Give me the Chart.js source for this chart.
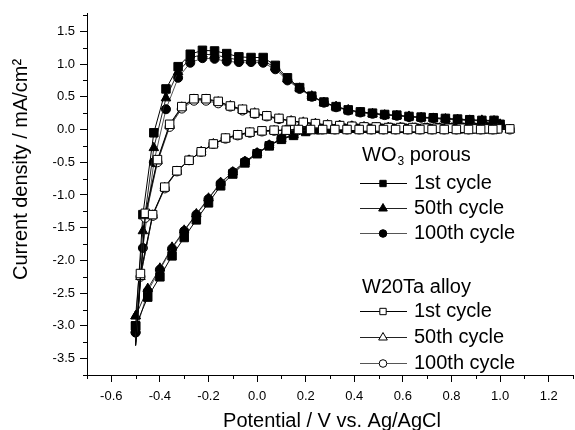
<!DOCTYPE html>
<html>
<head>
<meta charset="utf-8">
<script src="https://cdn.jsdelivr.net/npm/chart.js@4/dist/chart.umd.min.js"></script>
<style>
  html, body { margin: 0; padding: 0; background: #fff; overflow: hidden; }
  #wrap { width: 580px; height: 430px; }
</style>
</head>
<body>
<div id="wrap"><canvas id="cv" width="580" height="430"></canvas></div>
<script>
// Axis text
const xTitle = 'Potential / V vs. Ag/AgCl';
const yTitle = 'Current density / mA/cm\u00B2';

// Tick values
const xTicks = [-0.6, -0.4, -0.2, 0.0, 0.2, 0.4, 0.6, 0.8, 1.0, 1.2];
const xMinor = [-0.7, -0.5, -0.3, -0.1, 0.1, 0.3, 0.5, 0.7, 0.9, 1.1, 1.3];
const yTicks = [-3.5, -3.0, -2.5, -2.0, -1.5, -1.0, -0.5, 0.0, 0.5, 1.0, 1.5];
const yMinor = [-3.75, -3.25, -2.75, -2.25, -1.75, -1.25, -0.75, -0.25, 0.25, 0.75, 1.25, 1.75];

// Legend text
const cycleLabels = ['1st cycle', '50th cycle', '100th cycle'];
const wo3Title = { main: 'WO', sub: '3', rest: ' porous' };
const alloyTitle = 'W20Ta alloy';

// WO3 porous: potential path (anodic sweep up to 1.0 V, then cathodic back)
const wo3Potential = [
  -0.50, -0.47, -0.425, -0.375, -0.325, -0.275, -0.225, -0.175, -0.125, -0.075,
  -0.025, 0.025, 0.075, 0.125, 0.175, 0.225, 0.275, 0.325, 0.375, 0.425,
  0.475, 0.525, 0.575, 0.625, 0.675, 0.725, 0.775, 0.825, 0.875, 0.925,
  0.975, 1.00,
  0.95, 0.90, 0.85, 0.80, 0.75, 0.70, 0.65, 0.60, 0.55, 0.50,
  0.45, 0.40, 0.35, 0.30, 0.25, 0.20, 0.15, 0.10, 0.05, 0.00,
  -0.05, -0.10, -0.15, -0.20, -0.25, -0.30, -0.35, -0.40, -0.45
];
const wo3Cycle1 = [
  -3.00, -1.30, -0.05, 0.62, 0.96, 1.15, 1.21, 1.20, 1.16, 1.11,
  1.10, 1.10, 0.98, 0.79, 0.64, 0.51, 0.42, 0.35, 0.30, 0.27,
  0.25, 0.23, 0.22, 0.20, 0.19, 0.18, 0.17, 0.16, 0.15, 0.14,
  0.14, 0.08,
  0.03, 0.02, 0.02, 0.02, 0.02, 0.02, 0.02, 0.02, 0.02, 0.02,
  0.02, 0.02, 0.02, 0.01, 0.00, -0.03, -0.09, -0.15, -0.25, -0.37,
  -0.51, -0.68, -0.86, -1.12, -1.38, -1.65, -1.93, -2.25, -2.56
];
const wo3Cycle50 = [
  -2.85, -1.55, -0.28, 0.48, 0.88, 1.09, 1.15, 1.14, 1.10, 1.06,
  1.05, 1.05, 0.95, 0.77, 0.63, 0.51, 0.41, 0.35, 0.30, 0.26,
  0.24, 0.22, 0.21, 0.20, 0.18, 0.17, 0.16, 0.15, 0.14, 0.14,
  0.13, 0.08,
  0.03, 0.02, 0.02, 0.02, 0.02, 0.02, 0.02, 0.02, 0.02, 0.02,
  0.02, 0.02, 0.02, 0.01, 0.00, -0.02, -0.08, -0.14, -0.24, -0.36,
  -0.49, -0.65, -0.81, -1.05, -1.29, -1.54, -1.80, -2.12, -2.43
];
const wo3Cycle100 = [
  -3.10, -1.81, -0.50, 0.31, 0.79, 1.02, 1.09, 1.08, 1.04, 1.03,
  1.03, 1.02, 0.92, 0.75, 0.62, 0.50, 0.41, 0.34, 0.29, 0.26,
  0.24, 0.22, 0.21, 0.19, 0.18, 0.17, 0.16, 0.15, 0.14, 0.13,
  0.12, 0.07,
  0.03, 0.02, 0.02, 0.02, 0.02, 0.02, 0.02, 0.02, 0.02, 0.02,
  0.02, 0.02, 0.02, 0.01, 0.00, -0.02, -0.08, -0.14, -0.24, -0.36,
  -0.49, -0.65, -0.82, -1.06, -1.30, -1.55, -1.82, -2.14, -2.47
];

// W20Ta alloy: potential path
const alloyPotential = [
  -0.50, -0.46, -0.41, -0.36, -0.31, -0.26, -0.21, -0.16, -0.11, -0.06,
  -0.01, 0.04, 0.09, 0.14, 0.19, 0.24, 0.29, 0.34, 0.39, 0.44,
  0.49, 0.54, 0.59, 0.64, 0.69, 0.74, 0.79, 0.84, 0.89, 0.94,
  0.99, 1.04,
  0.97, 0.92, 0.87, 0.82, 0.77, 0.72, 0.67, 0.62, 0.57, 0.52,
  0.47, 0.42, 0.37, 0.32, 0.27, 0.22, 0.17, 0.12, 0.07, 0.02,
  -0.03, -0.08, -0.13, -0.18, -0.23, -0.28, -0.33, -0.38, -0.43, -0.48
];
const alloyCycle1 = [
  -3.30, -1.28, -0.46, 0.08, 0.35, 0.47, 0.47, 0.43, 0.36, 0.31,
  0.25, 0.21, 0.17, 0.13, 0.11, 0.09, 0.07, 0.06, 0.05, 0.04,
  0.04, 0.03, 0.03, 0.03, 0.02, 0.02, 0.02, 0.02, 0.01, 0.01,
  0.01, 0.01,
  0.00, 0.00, 0.00, 0.00, 0.00, 0.00, 0.00, 0.00, 0.00, 0.00,
  0.00, 0.00, 0.00, 0.00, 0.00, 0.00, 0.00, -0.01, -0.01, -0.02,
  -0.04, -0.08, -0.13, -0.22, -0.34, -0.47, -0.63, -0.88, -1.30, -2.20
];
const alloyCycle50 = [
  -3.25, -1.32, -0.48, 0.06, 0.34, 0.46, 0.46, 0.42, 0.36, 0.30,
  0.25, 0.20, 0.16, 0.13, 0.11, 0.09, 0.07, 0.06, 0.05, 0.04,
  0.03, 0.03, 0.03, 0.02, 0.02, 0.02, 0.02, 0.01, 0.01, 0.01,
  0.01, 0.00,
  0.00, 0.00, 0.00, 0.00, 0.00, 0.00, 0.00, 0.00, 0.00, 0.00,
  0.00, 0.00, 0.00, 0.00, 0.00, 0.00, 0.00, -0.01, -0.02, -0.03,
  -0.05, -0.09, -0.14, -0.22, -0.34, -0.47, -0.64, -0.89, -1.31, -2.25
];
const alloyCycle100 = [
  -3.30, -1.35, -0.50, 0.04, 0.32, 0.44, 0.44, 0.40, 0.35, 0.29,
  0.24, 0.20, 0.16, 0.13, 0.10, 0.08, 0.07, 0.06, 0.05, 0.04,
  0.03, 0.03, 0.03, 0.02, 0.02, 0.02, 0.02, 0.01, 0.01, 0.01,
  0.01, 0.00,
  0.00, 0.00, 0.00, 0.00, 0.00, 0.00, 0.00, 0.00, 0.00, 0.00,
  0.00, 0.00, 0.00, 0.00, 0.00, 0.00, -0.01, -0.01, -0.02, -0.03,
  -0.05, -0.09, -0.14, -0.22, -0.34, -0.47, -0.64, -0.90, -1.32, -2.25
];

// Build a closed loop of {x, y} points
function loop(potential, current) {
  const pts = potential.map((v, i) => ({ x: v, y: current[i] }));
  pts.push({ x: potential[0], y: current[0] });
  return pts;
}

const fontFamily = '"Liberation Sans", Arial, Helvetica, sans-serif';
Chart.defaults.font.family = fontFamily;
Chart.defaults.color = '#000';

function series(label, pts, style, radius, filled, lineColor, order, hideTurn) {
  const last = pts.length - 1;
  return {
    label: label,
    data: pts,
    showLine: true,
    borderColor: lineColor,
    borderWidth: 1,
    pointStyle: style,
    // the alloy loops show no marker at the sharp turn at -0.5 V
    pointRadius: c => (hideTurn && (c.dataIndex === 0 || c.dataIndex === last)) ? 0 : radius,
    pointBackgroundColor: filled ? '#000' : '#fff',
    pointBorderColor: '#000',
    pointBorderWidth: 1,
    order: order
  };
}

const datasets = [
  series('WO3 ' + cycleLabels[0], loop(wo3Potential, wo3Cycle1), 'rect', 6, true, '#000', 3, false),
  series('WO3 ' + cycleLabels[1], loop(wo3Potential, wo3Cycle50), 'triangle', 5.5, true, '#222', 4, false),
  series('WO3 ' + cycleLabels[2], loop(wo3Potential, wo3Cycle100), 'circle', 4.5, true, '#555', 5, false),
  series('W20Ta ' + cycleLabels[0], loop(alloyPotential, alloyCycle1), 'rect', 6, false, '#000', 0, true),
  series('W20Ta ' + cycleLabels[1], loop(alloyPotential, alloyCycle50), 'triangle', 5.5, false, '#222', 1, true),
  series('W20Ta ' + cycleLabels[2], loop(alloyPotential, alloyCycle100), 'circle', 4.5, false, '#555', 2, true)
];

// minor tick marks, outside the axes
const minorTicks = {
  id: 'minorTicks',
  afterDraw(chart) {
    const { ctx, scales: { x, y } } = chart;
    ctx.save();
    ctx.strokeStyle = '#000';
    ctx.lineWidth = 1;
    ctx.beginPath();
    xMinor.forEach(v => {
      const px = Math.round(x.getPixelForValue(v)) + 0.5;
      ctx.moveTo(px, y.bottom);
      ctx.lineTo(px, y.bottom + 4);
    });
    yMinor.forEach(v => {
      const py = Math.round(y.getPixelForValue(v)) + 0.5;
      ctx.moveTo(x.left, py);
      ctx.lineTo(x.left - 4, py);
    });
    ctx.stroke();
    ctx.restore();
  }
};

// axis titles
const axisTitles = {
  id: 'axisTitles',
  afterDraw(chart) {
    const ctx = chart.ctx;
    ctx.save();
    ctx.fillStyle = '#000';
    ctx.font = '20px ' + fontFamily;
    ctx.textAlign = 'center';
    ctx.textBaseline = 'alphabetic';
    ctx.fillText(xTitle, 332, 427);
    ctx.translate(27, 280);
    ctx.rotate(-Math.PI / 2);
    ctx.textAlign = 'left';
    ctx.fillText(yTitle, 0, 0);
    ctx.restore();
  }
};

// grouped legend drawn inside the plot
const groupLegend = {
  id: 'groupLegend',
  afterDraw(chart) {
    const ctx = chart.ctx;
    const lx = 360, mx = 383, tx = 414;
    const rows = [
      { head: true, y: 155 },
      { ds: 0, y: 183 }, { ds: 1, y: 208 }, { ds: 2, y: 233 },
      { head2: true, y: 287 },
      { ds: 3, y: 311 }, { ds: 4, y: 337 }, { ds: 5, y: 363 }
    ];
    const legendRadius = { rect: 4.5, triangle: 5, circle: 3.8 };
    const big = '20px ' + fontFamily;
    ctx.save();
    ctx.fillStyle = '#000';
    ctx.textBaseline = 'middle';
    ctx.textAlign = 'left';
    rows.forEach(r => {
      ctx.font = big;
      if (r.head) {
        ctx.fillText(wo3Title.main, 362, r.y);
        const w = ctx.measureText(wo3Title.main).width;
        ctx.font = '12px ' + fontFamily;
        ctx.fillText(wo3Title.sub, 362 + w + 1, r.y + 7);
        const ws = ctx.measureText(wo3Title.sub).width;
        ctx.font = big;
        ctx.fillText(wo3Title.rest, 362 + w + ws + 1, r.y);
        return;
      }
      if (r.head2) {
        ctx.fillText(alloyTitle, 362, r.y);
        return;
      }
      const ds = chart.data.datasets[r.ds];
      ctx.strokeStyle = ds.borderColor;
      ctx.lineWidth = 1;
      ctx.beginPath();
      ctx.moveTo(lx, Math.round(r.y) + 0.5);
      ctx.lineTo(lx + 47, Math.round(r.y) + 0.5);
      ctx.stroke();
      ctx.fillStyle = ds.pointBackgroundColor;
      ctx.strokeStyle = '#000';
      Chart.helpers.drawPoint(ctx, {
        pointStyle: ds.pointStyle,
        radius: legendRadius[ds.pointStyle],
        rotation: 0,
        borderWidth: 1
      }, mx, r.y + 0.5);
      ctx.fillStyle = '#000';
      ctx.fillText(cycleLabels[r.ds % 3], tx, r.y);
    });
    ctx.restore();
  }
};

new Chart(document.getElementById('cv'), {
  type: 'scatter',
  data: { datasets: datasets },
  options: {
    responsive: false,
    animation: false,
    devicePixelRatio: 1,
    layout: { padding: { top: 13, right: 3, left: 0, bottom: 0 } },
    plugins: { legend: { display: false }, tooltip: { enabled: false } },
    scales: {
      x: {
        type: 'linear',
        min: -0.7,
        max: 1.3,
        afterBuildTicks: s => { s.ticks = xTicks.map(v => ({ value: v })); },
        afterFit: s => { s.height = 55; },
        ticks: {
          autoSkip: false,
          maxRotation: 0,
          padding: 7,
          font: { size: 13 },
          color: '#000',
          callback: v => Number(v).toFixed(1)
        },
        grid: { drawOnChartArea: false, drawTicks: true, tickLength: 7, tickColor: '#000', tickWidth: 1 },
        border: { display: true, color: '#000', width: 1 }
      },
      y: {
        type: 'linear',
        min: -3.75,
        max: 1.78,
        afterBuildTicks: s => { s.ticks = yTicks.map(v => ({ value: v })); },
        afterFit: s => { s.width = 87; },
        ticks: {
          autoSkip: false,
          padding: 5,
          font: { size: 13 },
          color: '#000',
          callback: v => Number(v).toFixed(1)
        },
        grid: { drawOnChartArea: false, drawTicks: true, tickLength: 7, tickColor: '#000', tickWidth: 1 },
        border: { display: true, color: '#000', width: 1 }
      }
    }
  },
  plugins: [minorTicks, axisTitles, groupLegend]
});
</script>
</body>
</html>
